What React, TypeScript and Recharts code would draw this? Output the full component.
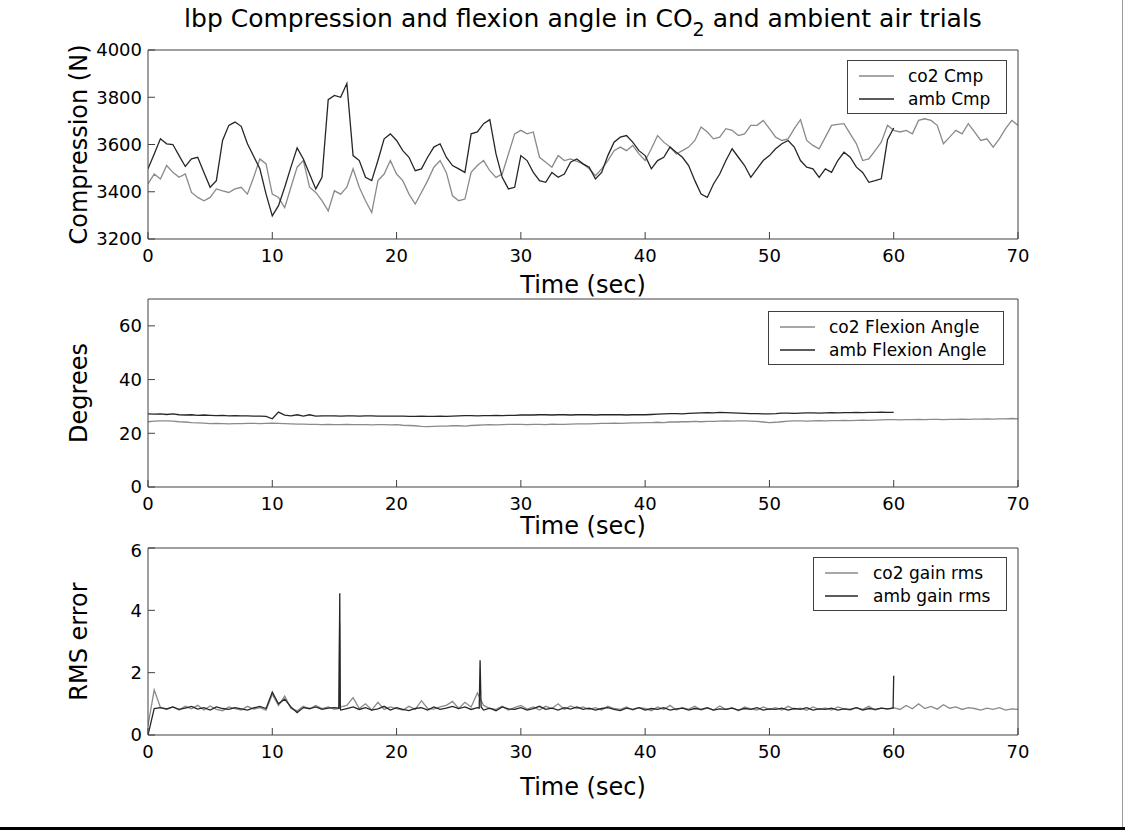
import { Legend, Line, LineChart, XAxis, YAxis } from 'recharts';

const FONT = "'DejaVu Sans', sans-serif";
const CO2 = '#8a8a8a';
const AMB = '#262626';
const AXIS = '#404040';

// sample spacing of the value arrays below (seconds)
const STEP = 0.5;

const timeTicks = [0, 10, 20, 30, 40, 50, 60, 70];
const cmpTicks = [3200, 3400, 3600, 3800, 4000];
const flexTicks = [0, 20, 40, 60];
const rmsTicks = [0, 2, 4, 6];

// compression (N), 0..70 s
const co2Cmp = [
  3433, 3475, 3454, 3511, 3482, 3461, 3475, 3397, 3376, 3362,
  3376, 3412, 3404, 3397, 3412, 3419, 3390, 3461, 3539, 3518,
  3390, 3376, 3333, 3419, 3504, 3532, 3419, 3397, 3362, 3319,
  3404, 3390, 3419, 3497, 3419, 3362, 3312, 3447, 3475, 3532,
  3475, 3447, 3390, 3348, 3397, 3447, 3504, 3532, 3482, 3383,
  3362, 3369, 3482, 3511, 3532, 3489, 3461, 3475, 3560, 3645,
  3660, 3645, 3653, 3546, 3525, 3504, 3553, 3532, 3539, 3529,
  3518, 3497, 3468, 3497, 3532, 3574, 3589, 3574, 3596, 3560,
  3532, 3582, 3638, 3610, 3589, 3560, 3574, 3589, 3617, 3674,
  3653, 3624, 3631, 3667, 3660, 3638, 3645, 3681, 3681, 3702,
  3667, 3631, 3617, 3624, 3667, 3705, 3617, 3596, 3582, 3631,
  3681, 3685, 3688, 3645, 3603, 3532, 3539, 3574, 3610, 3681,
  3660, 3653, 3660, 3645, 3702, 3709, 3702, 3681, 3603, 3631,
  3660, 3645, 3688, 3653, 3617, 3624, 3589, 3624, 3667, 3702,
  3681,
];

// compression (N), 0..60 s
const ambCmp = [
  3497, 3560, 3624, 3603, 3600, 3553, 3507, 3539, 3546, 3482,
  3419, 3447, 3617, 3681, 3695, 3677, 3603, 3550, 3497, 3390,
  3298, 3341, 3419, 3504, 3586, 3539, 3475, 3412, 3461, 3790,
  3808, 3800, 3858, 3553, 3532, 3461, 3447, 3532, 3624, 3645,
  3617, 3574, 3546, 3489, 3497, 3546, 3589, 3603, 3546, 3511,
  3497, 3482, 3645, 3653, 3688, 3705, 3560, 3461, 3412, 3419,
  3553, 3532, 3482, 3447, 3440, 3482, 3461, 3475, 3525, 3539,
  3518, 3504, 3454, 3482, 3553, 3610, 3631, 3638, 3610, 3574,
  3553, 3497, 3532, 3546, 3589, 3567, 3546, 3511, 3447, 3390,
  3376, 3433, 3475, 3532, 3582, 3546, 3511, 3461, 3497, 3532,
  3553, 3582, 3603, 3617, 3589, 3532, 3504, 3497, 3461, 3497,
  3482, 3532, 3567, 3546, 3504, 3482, 3440, 3447, 3455, 3620,
  3670,
];

// flexion angle (deg), 0..70 s
const co2Flex = [
  24.3, 24.5, 24.6, 24.6, 24.5, 24.3, 24.2, 24.0, 23.9, 23.8,
  23.6, 23.7, 23.6, 23.5, 23.6, 23.6, 23.7, 23.7, 23.6, 23.7,
  23.8, 23.7, 23.6, 23.5, 23.4, 23.4, 23.3, 23.3, 23.2, 23.3,
  23.2, 23.2, 23.3, 23.2, 23.2, 23.2, 23.1, 23.2, 23.2, 23.1,
  23.2, 23.0, 22.9, 22.8, 22.6, 22.5, 22.6, 22.7, 22.7, 22.8,
  22.8, 22.7, 22.9, 23.0, 23.1, 23.2, 23.1, 23.2, 23.3, 23.3,
  23.3, 23.2, 23.3, 23.3, 23.2, 23.4, 23.3, 23.3, 23.4, 23.5,
  23.5, 23.5, 23.6, 23.7, 23.7, 23.8, 23.7, 23.8, 23.9, 23.9,
  24.0, 24.0, 24.1, 24.0, 24.2, 24.2, 24.3, 24.3, 24.4, 24.3,
  24.4, 24.4, 24.5, 24.6, 24.5, 24.6, 24.6, 24.5, 24.4, 24.2,
  24.0, 24.1, 24.3, 24.5, 24.6, 24.6, 24.5, 24.6, 24.7, 24.6,
  24.7, 24.7, 24.8, 24.7, 24.8, 24.9, 24.8, 24.9, 25.0, 25.1,
  25.1, 25.0, 25.1, 25.1, 25.2, 25.1, 25.2, 25.2, 25.1, 25.2,
  25.2, 25.3, 25.2, 25.3, 25.3, 25.4, 25.3, 25.4, 25.4, 25.5,
  25.4,
];

// flexion angle (deg), 0..60 s
const ambFlex = [
  27.2, 27.1, 27.2, 27.0, 27.2, 26.9, 26.8, 26.9, 26.7, 26.8,
  26.7, 26.6, 26.7, 26.5, 26.6, 26.5, 26.5, 26.4, 26.4, 26.3,
  25.4, 27.9, 26.8, 26.5, 26.9, 26.4, 26.9, 26.4, 26.5, 26.5,
  26.5, 26.4, 26.5, 26.5, 26.4, 26.5, 26.5, 26.4, 26.4, 26.4,
  26.4, 26.4, 26.3, 26.3, 26.4, 26.3, 26.3, 26.4, 26.3, 26.4,
  26.5, 26.6, 26.6, 26.5, 26.6, 26.6, 26.7, 26.6, 26.7, 26.7,
  26.8, 26.8, 26.8, 26.9, 26.9, 26.8, 26.9, 26.9, 26.8, 26.9,
  26.9, 26.9, 26.8, 26.9, 26.9, 26.9, 26.9, 26.8, 26.9, 26.9,
  26.9, 27.0, 27.1, 27.2, 27.3, 27.3, 27.2, 27.4, 27.5, 27.6,
  27.7, 27.6, 27.8, 27.7, 27.6, 27.5, 27.4, 27.3, 27.3, 27.2,
  27.2, 27.3, 27.5, 27.5, 27.4, 27.5, 27.6, 27.6, 27.5, 27.6,
  27.7, 27.6, 27.7, 27.7, 27.8, 27.7, 27.8, 27.8, 27.9, 27.8,
  27.8,
];

// gain rms error, 0..70 s
const co2Rms = [
  0.30, 1.45, 0.88, 0.82, 0.90, 0.80, 0.92, 0.84, 0.95, 0.80,
  0.93, 0.82, 0.78, 0.90, 0.85, 0.80, 0.92, 0.83, 0.88, 0.80,
  1.30, 0.95, 1.25, 0.85, 0.78, 0.92, 0.83, 0.95, 0.85, 0.90,
  0.82, 0.90, 0.95, 1.20, 0.85, 1.00, 0.80, 1.05, 0.82, 0.90,
  0.85, 0.80, 0.92, 0.82, 1.10, 0.85, 0.83, 0.90, 0.95, 1.08,
  0.85, 1.05, 0.90, 1.35, 0.95, 0.85, 0.82, 0.92, 0.80, 0.88,
  0.95, 0.83, 0.90, 0.80, 0.92, 0.85, 1.00, 0.82, 0.93, 0.85,
  0.90, 0.82, 0.88, 0.80, 0.92, 0.85, 0.82, 0.90, 0.80, 0.88,
  0.85, 0.78, 0.90, 0.82, 0.95, 0.80, 0.88, 0.83, 0.92, 0.80,
  0.86, 0.80, 0.93, 0.82, 0.88, 0.78, 0.90, 0.84, 0.80, 0.90,
  0.82, 0.88, 0.80, 0.92, 0.83, 0.86, 0.79, 0.90, 0.82, 0.87,
  0.80, 0.90, 0.84, 0.80, 0.88, 0.82, 0.92, 0.80, 0.86, 0.83,
  0.88, 0.82, 0.95, 0.84, 1.00, 0.85, 0.92, 0.83, 0.97, 0.86,
  0.90, 0.82, 0.88, 0.85, 0.80, 0.86, 0.82, 0.88, 0.80, 0.84,
  0.82,
];

// gain rms error, 0..60 s
const ambRms = [
  0.00, 0.85, 0.88, 0.84, 0.90, 0.82, 0.86, 0.92, 0.83, 0.88,
  0.80, 0.90, 0.85, 0.82, 0.88, 0.84, 0.80, 0.87, 0.92, 0.85,
  1.38, 1.00, 1.15, 0.90, 0.72, 0.88, 0.85, 0.90, 0.82, 0.86,
  0.88, 0.80, 0.85, 0.90, 0.82, 0.88, 0.80, 0.84, 0.92, 0.80,
  0.88, 0.82, 0.78, 0.85, 0.88, 0.80, 0.90, 0.82, 0.86, 0.92,
  0.85, 0.90, 0.82, 0.88, 0.80, 0.86, 0.78, 0.90, 0.84, 0.82,
  0.88, 0.80, 0.85, 0.92, 0.82, 0.86, 0.80, 0.88, 0.83, 0.90,
  0.82, 0.86, 0.80, 0.85, 0.88, 0.82, 0.78, 0.86, 0.82, 0.88,
  0.80, 0.85, 0.82, 0.88, 0.80, 0.84, 0.86, 0.80, 0.85, 0.82,
  0.88, 0.80, 0.84, 0.82, 0.86, 0.80, 0.85, 0.82, 0.88, 0.80,
  0.84, 0.82, 0.86, 0.80, 0.85, 0.82, 0.88, 0.80, 0.84, 0.82,
  0.86, 0.80, 0.84, 0.82, 0.88, 0.80, 0.85, 0.82, 0.86, 0.84,
  1.90,
];

// narrow spikes between the regular samples: [time, value]
const co2RmsSpikes: [number, number][] = [
  [15.35, 0.85], [15.42, 3.6], [15.48, 0.86],
];
const ambRmsSpikes: [number, number][] = [
  [15.36, 0.86], [15.43, 4.55], [15.47, 0.88],
  [26.65, 0.86], [26.72, 2.4], [26.8, 0.9],
  [59.95, 0.86],
];

type Pt = { t: number; v: number };

function toSeries(vals: number[], extra: [number, number][] = []): Pt[] {
  const pts = vals.map((v, i) => ({ t: i * STEP, v }));
  extra.forEach(([t, v]) => pts.push({ t, v }));
  return pts.sort((a, b) => a.t - b.t);
}

function BoxLegend(props: any) {
  const { payload, lineW, gap, order } = props;
  // keep the co2 series on the first row, as in the plot order
  const items = [...(payload || [])].sort((a: any, b: any) => order.indexOf(a.value) - order.indexOf(b.value));
  return (
    <div style={{ border: `1px solid ${AXIS}`, background: '#fff', padding: '3px 16px 3px 11px', fontFamily: FONT, fontSize: 17 }}>
      {items.map((p: any) => (
        <div key={p.value} style={{ display: 'flex', alignItems: 'center', height: 23, whiteSpace: 'nowrap' }}>
          <svg width={lineW} height={4} style={{ display: 'block' }}>
            <line x1={0} y1={2} x2={lineW} y2={2} stroke={p.color} strokeWidth={1.3} />
          </svg>
          <span style={{ marginLeft: gap, color: '#000' }}>{p.value}</span>
        </div>
      ))}
    </div>
  );
}

const tickStyle = { fill: '#000', fontSize: 18, fontFamily: FONT };
const labelStyle = { fill: '#000', fontSize: 24, fontFamily: FONT };

function Panel(props: {
  top: number;
  height: number;
  marginTop: number;
  xAxisH: number;
  yDomain: [number, number];
  yTicks: number[];
  yLabel: string;
  timeOffset: number;
  legendPos: { left: number; top: number };
  lineW: number;
  gap: number;
  co2: Pt[];
  amb: Pt[];
  co2Name: string;
  ambName: string;
}) {
  const p = props;
  return (
    <div style={{ position: 'absolute', left: 0, top: p.top }}>
      <LineChart width={1125} height={p.height} margin={{ top: p.marginTop, right: 106, bottom: 0, left: 8 }}>
        <XAxis
          dataKey="t"
          type="number"
          domain={[0, 70]}
          ticks={timeTicks}
          allowDataOverflow
          height={p.xAxisH}
          tick={tickStyle}
          tickSize={-7}
          tickMargin={17}
          stroke={AXIS}
          label={{ value: 'Time (sec)', position: 'insideTop', offset: p.timeOffset, ...labelStyle }}
        />
        <XAxis
          xAxisId="top"
          orientation="top"
          dataKey="t"
          type="number"
          domain={[0, 70]}
          ticks={timeTicks}
          height={1}
          tickSize={-7}
          tickFormatter={() => ''}
          stroke={AXIS}
        />
        <YAxis
          type="number"
          domain={p.yDomain}
          ticks={p.yTicks}
          allowDataOverflow
          width={140}
          tick={tickStyle}
          tickSize={-7}
          tickMargin={13}
          stroke={AXIS}
          label={{ value: p.yLabel, angle: -90, position: 'center', ...labelStyle }}
        />
        <YAxis
          yAxisId="right"
          orientation="right"
          type="number"
          domain={p.yDomain}
          ticks={p.yTicks}
          width={1}
          tickSize={-7}
          tickFormatter={() => ''}
          stroke={AXIS}
        />
        <Legend
          layout="vertical"
          align="center"
          verticalAlign="middle"
          wrapperStyle={{ left: p.legendPos.left, top: p.legendPos.top, width: 'auto' }}
          content={(lp: any) => <BoxLegend {...lp} lineW={p.lineW} gap={p.gap} order={[p.co2Name, p.ambName]} />}
        />
        <Line data={p.co2} dataKey="v" name={p.co2Name} stroke={CO2} strokeWidth={1.3} dot={false} isAnimationActive={false} />
        <Line data={p.amb} dataKey="v" name={p.ambName} stroke={AMB} strokeWidth={1.3} dot={false} isAnimationActive={false} />
      </LineChart>
    </div>
  );
}

export default function App() {
  return (
    <div style={{ position: 'absolute', left: 0, top: 0, width: 1125, height: 830, background: '#fff', overflow: 'hidden' }}>
      <div style={{ position: 'absolute', left: 0, top: 4, width: 1166, textAlign: 'center', fontFamily: FONT, fontSize: 25, lineHeight: '30px', color: '#000', whiteSpace: 'nowrap' }}>
        lbp Compression and flexion angle in CO<sub style={{ fontSize: 19, verticalAlign: -9, lineHeight: 0 }}>2</sub> and ambient air trials
      </div>
      <Panel
        top={0}
        height={300}
        marginTop={49}
        xAxisH={61}
        yDomain={[3200, 4000]}
        yTicks={cmpTicks}
        yLabel="Compression (N)"
        timeOffset={37}
        legendPos={{ left: 847, top: 60 }}
        lineW={35}
        gap={14}
        co2={toSeries(co2Cmp)}
        amb={toSeries(ambCmp)}
        co2Name="co2 Cmp"
        ambName="amb Cmp"
      />
      <Panel
        top={295}
        height={245}
        marginTop={3}
        xAxisH={53}
        yDomain={[0, 70]}
        yTicks={flexTicks}
        yLabel="Degrees"
        timeOffset={30}
        legendPos={{ left: 768, top: 16 }}
        lineW={35}
        gap={14}
        co2={toSeries(co2Flex)}
        amb={toSeries(ambFlex)}
        co2Name="co2 Flexion Angle"
        ambName="amb Flexion Angle"
      />
      <Panel
        top={540}
        height={290}
        marginTop={7}
        xAxisH={95}
        yDomain={[0, 6]}
        yTicks={rmsTicks}
        yLabel="RMS error"
        timeOffset={43}
        legendPos={{ left: 813, top: 17 }}
        lineW={33}
        gap={15}
        co2={toSeries(co2Rms, co2RmsSpikes)}
        amb={toSeries(ambRms, ambRmsSpikes)}
        co2Name="co2 gain rms"
        ambName="amb gain rms"
      />
      <div style={{ position: 'absolute', right: 2, top: 0, width: 1, height: 827, background: '#9a9a9a' }} />
      <div style={{ position: 'absolute', left: 0, top: 827, width: 1125, height: 3, background: '#000' }} />
    </div>
  );
}
